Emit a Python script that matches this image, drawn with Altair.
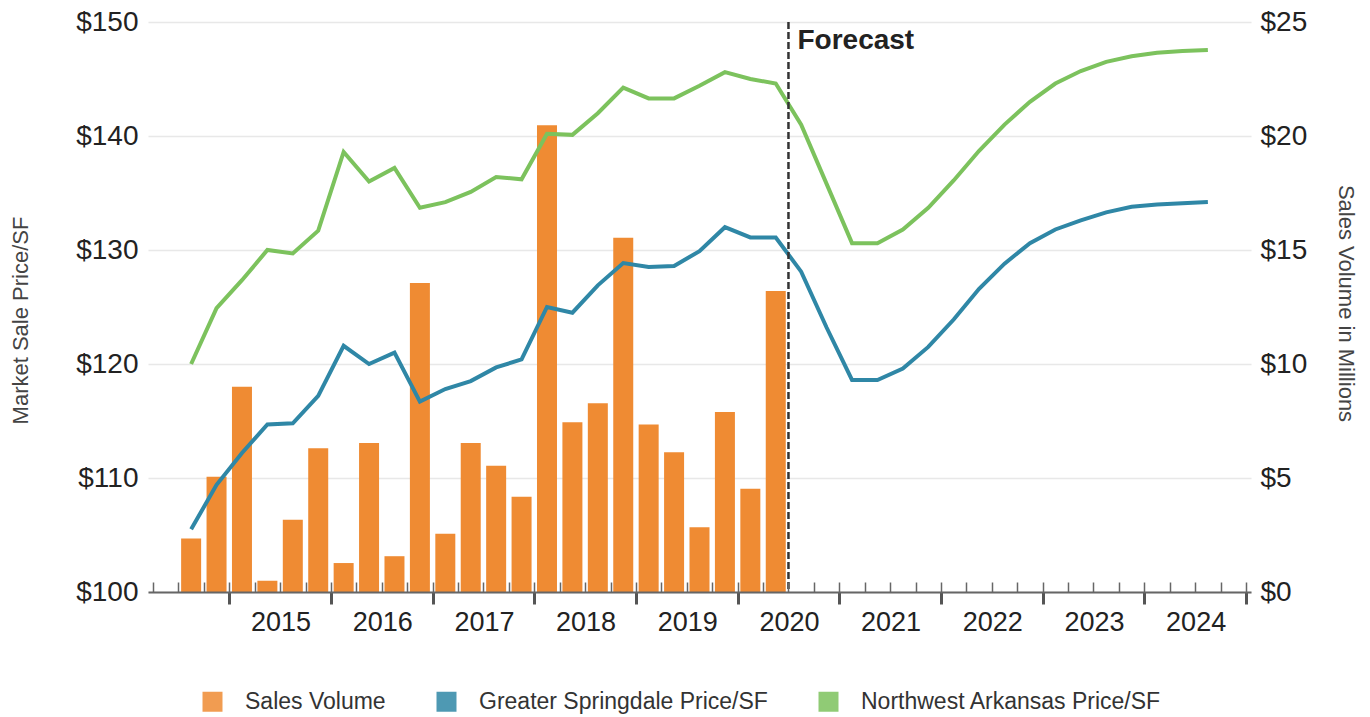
import altair as alt
import pandas as pd

FONT = "Liberation Sans, Arial, sans-serif"

# ---------------- data ----------------
bar_quarters = ["2014Q3", "2014Q4",
                "2015Q1", "2015Q2", "2015Q3", "2015Q4",
                "2016Q1", "2016Q2", "2016Q3", "2016Q4",
                "2017Q1", "2017Q2", "2017Q3", "2017Q4",
                "2018Q1", "2018Q2", "2018Q3", "2018Q4",
                "2019Q1", "2019Q2", "2019Q3", "2019Q4",
                "2020Q1", "2020Q2"]
sales_volume = [2.35, 5.05, 9.0, 0.49, 3.17, 6.3, 1.27, 6.53, 1.57, 13.55,
                2.56, 6.53, 5.54, 4.18, 20.47, 7.44, 8.28, 15.54, 7.35, 6.13,
                2.84, 7.89, 4.53, 13.2]

line_quarters = bar_quarters + [
    "2020Q3", "2020Q4",
    "2021Q1", "2021Q2", "2021Q3", "2021Q4",
    "2022Q1", "2022Q2", "2022Q3", "2022Q4",
    "2023Q1", "2023Q2", "2023Q3", "2023Q4",
    "2024Q1", "2024Q2", "2024Q3"]
springdale_price = [105.5, 109.4, 112.2, 114.7, 114.8, 117.2, 121.6, 120.0, 121.0, 116.7,
                    117.8, 118.5, 119.7, 120.4, 125.0, 124.5, 126.9, 128.85, 128.5, 128.6,
                    129.9, 132.0, 131.1, 131.1, 128.1, 123.2, 118.6, 118.6, 119.6, 121.5,
                    123.9, 126.6, 128.8, 130.6, 131.8, 132.6, 133.3, 133.8, 134.0, 134.1,
                    134.2]
nwa_price = [120.0, 124.9, 127.35, 130.0, 129.7, 131.7, 138.6, 136.0, 137.2, 133.7,
             134.2, 135.1, 136.4, 136.2, 140.2, 140.1, 142.0, 144.25, 143.3, 143.3,
             144.4, 145.6, 145.0, 144.6, 141.0, 135.8, 130.6, 130.6, 131.8, 133.7,
             136.1, 138.7, 141.0, 143.0, 144.6, 145.7, 146.5, 147.0, 147.3, 147.45,
             147.55]

year_labels = ["2015", "2016", "2017", "2018", "2019", "2020", "2021", "2022", "2023", "2024"]
series_names = ["Sales Volume", "Greater Springdale Price/SF", "Northwest Arkansas Price/SF"]
series_colors = ["#EF8B33", "#2F87A6", "#7CC25D"]
forecast_quarter = "2020Q3"
forecast_label = "Forecast"
axis_start, axis_end = "2014Q2", "2025Q1"


def q_index(label):
    y, q = int(label[:4]), int(label[5])
    return (y - int(axis_start[:4])) * 4 + (q - int(axis_start[5]))


bars_df = pd.DataFrame({
    "t": [q_index(q) + 0.5 for q in bar_quarters],
    "value": sales_volume,
    "series": series_names[0],
})
lines_df = pd.concat([
    pd.DataFrame({"t": [q_index(q) + 0.5 for q in line_quarters],
                  "price": springdale_price, "series": series_names[1]}),
    pd.DataFrame({"t": [q_index(q) + 0.5 for q in line_quarters],
                  "price": nwa_price, "series": series_names[2]}),
])
fc_df = pd.DataFrame({"t": [q_index(forecast_quarter)], "label": [forecast_label]})

x_end = q_index(axis_end)
year_bounds = [q_index(f"{y}Q1") for y in range(2015, 2026)]
quarter_bounds = list(range(0, x_end + 1))

W, H = 1103, 570
px_per_q = W / x_end

xscale = alt.Scale(domain=[0, x_end], nice=False, zero=False)
color_scale = alt.Scale(domain=series_names, range=series_colors)

label_arr = "[" + ",".join(f"'{s}'" for s in year_labels) + "]"
axis_main = alt.Axis(
    values=year_bounds, title=None, orient="bottom",
    labelExpr=f"datum.value < {x_end} ? {label_arr}[(datum.value - {year_bounds[0]}) / 4] : ''",
    labelOffset=2 * px_per_q, labelFontSize=27, labelColor="#222", labelFont=FONT,
    labelPadding=5, labelOverlap=False, labelFlush=False,
    tickSize=12, tickWidth=3, tickColor="#555",
    domainColor="#666", domainWidth=2, grid=False, zindex=1,
)
axis_minor = alt.Axis(
    values=quarter_bounds, title=None, orient="bottom", offset=-10,
    labels=False, domain=False, grid=False,
    tickSize=10, tickWidth=1.5, tickColor="#666", zindex=1,
)

bars = alt.Chart(bars_df).mark_bar(size=20).encode(
    x=alt.X("t:Q", scale=xscale, axis=axis_main),
    y=alt.Y("value:Q", scale=alt.Scale(domain=[0, 25], nice=False),
            axis=alt.Axis(orient="right", values=[0, 5, 10, 15, 20, 25], format="$.0f",
                          title="Sales Volume in Millions", titleFontSize=22,
                          titleFontWeight="normal", titleColor="#444", titleFont=FONT,
                          titleAngle=90, titleX=94, titleY=281, titleBaseline="middle",
                          titleAlign="center",
                          labelFontSize=28, labelColor="#222", labelFont=FONT,
                          labelPadding=9, ticks=False, domain=False, grid=False)),
    color=alt.Color("series:N", scale=color_scale,
                    legend=alt.Legend(title=None, orient="none", direction="horizontal",
                                      legendX=53, legendY=668,
                                      symbolType="square", symbolSize=400,
                                      symbolStrokeWidth=0, symbolOpacity=0.85,
                                      labelFontSize=23, labelColor="#333", labelFont=FONT,
                                      labelOffset=21, columnPadding=49, labelLimit=400)),
)

lines = alt.Chart(lines_df).mark_line(strokeWidth=4).encode(
    x=alt.X("t:Q", scale=xscale, axis=axis_minor),
    y=alt.Y("price:Q", scale=alt.Scale(domain=[100, 150], nice=False, zero=False),
            axis=alt.Axis(orient="left", values=[100, 110, 120, 130, 140, 150], format="$.0f",
                          title="Market Sale Price/SF", titleFontSize=22,
                          titleFontWeight="normal", titleColor="#444", titleFont=FONT,
                          titleAngle=-90, titleX=-128, titleY=298, titleBaseline="middle",
                          titleAlign="center",
                          labelFontSize=28, labelColor="#222", labelFont=FONT,
                          labelPadding=10, ticks=False, domain=False,
                          grid=True, gridColor="#e8e8e8", gridWidth=1.5)),
    color=alt.Color("series:N", scale=color_scale, legend=None),
)

rule = alt.Chart(fc_df).mark_rule(strokeDash=[7, 3], strokeWidth=2.5, color="#333").encode(
    x=alt.X("t:Q", scale=xscale, axis=None),
)

text = alt.Chart(fc_df).mark_text(align="left", baseline="alphabetic", dx=9, fontSize=28,
                                  fontWeight="bold", color="#222", font=FONT).encode(
    x=alt.X("t:Q", scale=xscale, axis=None),
    y=alt.value(27),
    text="label:N",
)

chart = alt.layer(bars, lines, rule, text).resolve_scale(
    y="independent"
).resolve_axis(
    x="independent"
).properties(
    width=W, height=H,
    autosize=alt.AutoSizeParams(type="none"),
    padding={"left": 148, "top": 22, "right": 119, "bottom": 125},
).configure(font=FONT).configure_view(strokeWidth=0, stroke=None)

chart.save("out.html", embed_options={"renderer": "svg", "actions": False})
